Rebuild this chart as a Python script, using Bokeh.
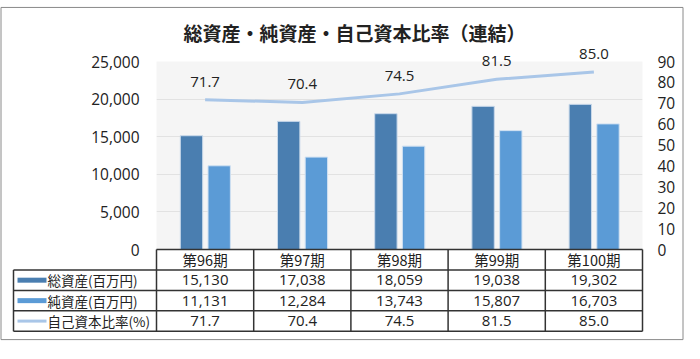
from bokeh.plotting import figure
from bokeh.models import Range1d, LinearAxis, FixedTicker, NumeralTickFormatter, ColumnDataSource
from bokeh.transform import dodge
from bokeh.core.properties import value
from bokeh.embed import file_html
from bokeh.resources import INLINE

# ---------------- data ----------------
title_text = "総資産・純資産・自己資本比率（連結）"
periods = ["第96期", "第97期", "第98期", "第99期", "第100期"]
total_assets = [15130, 17038, 18059, 19038, 19302]      # 総資産(百万円)
net_assets = [11131, 12284, 13743, 15807, 16703]        # 純資産(百万円)
equity_ratio = [71.7, 70.4, 74.5, 81.5, 85.0]           # 自己資本比率(%)
series_names = ["総資産(百万円)", "純資産(百万円)", "自己資本比率(%)"]
left_ticks = [0, 5000, 10000, 15000, 20000, 25000]
right_ticks = [0, 10, 20, 30, 40, 50, 60, 70, 80, 90]

# ---------------- styles / layout ----------------
FONT = "Noto Sans CJK JP"
NUM_FONT = "Open Sans"
C_TOTAL = "#4a7eb0"
C_NET = "#5b9bd6"
C_RATIO = "#a9c6e8"
C_TEXT = "#222222"
C_TABLE = "#333333"

W, H = 684, 343
FL, FR, FT, FB = 156, 642, 56, 249     # plot frame edges in px
TABLE_L = 13
ROW_H = 21
N_ROWS = 4

n = len(periods)
Y_MAX = left_ticks[-1]
R_MAX = right_ticks[-1]
xpp = n / (FR - FL)
ypp = Y_MAX / (FB - FT)


def dx(px):
    return (px - FL) * xpp


def dy(py):
    return (FB - py) * ypp


p = figure(width=W, height=H, x_range=Range1d(0, n), y_range=Range1d(0, Y_MAX),
           x_axis_location=None, output_backend="svg", toolbar_location=None,
           min_border_left=FL, min_border_right=W - FR, min_border_top=FT,
           min_border_bottom=H - FB, background_fill_color="#f5f5f5",
           border_fill_color="white", outline_line_color=None)

# title
p.title.text = title_text
p.title.align = "left"
p.title.offset = 27
p.title.standoff = 32
p.title.text_font = FONT
p.title.text_font_size = "19px"
p.title.text_font_style = "bold"
p.title.text_color = C_TEXT

# grid
p.xgrid.visible = False
p.ygrid.ticker = FixedTicker(ticks=left_ticks)
p.ygrid.grid_line_color = "#e2e2e2"
p.ygrid.grid_line_width = 1

# left axis
ya = p.yaxis[0]
ya.ticker = FixedTicker(ticks=left_ticks)
ya.formatter = NumeralTickFormatter(format="0,0")
ya.axis_line_color = None
ya.major_tick_line_color = None
ya.minor_tick_line_color = None
ya.major_label_standoff = 11
ya.major_label_text_font = NUM_FONT
ya.major_label_text_font_size = "15.5px"
ya.major_label_text_color = C_TEXT

# right axis
p.extra_y_ranges = {"ratio": Range1d(0, R_MAX)}
ra = LinearAxis(y_range_name="ratio", ticker=FixedTicker(ticks=right_ticks),
                axis_line_color=None, major_tick_line_color=None,
                minor_tick_line_color=None, major_label_standoff=9,
                major_label_text_font=NUM_FONT, major_label_text_font_size="15.5px",
                major_label_text_color=C_TEXT)
p.add_layout(ra, "right")

xc = [i + 0.5 for i in range(n)]
src = ColumnDataSource(dict(
    x=xc, total=total_assets, net=net_assets, ratio=equity_ratio,
    ratio_label=[f"{v:.1f}" for v in equity_ratio],
))

p.vbar(x=dodge("x", -0.14), top="total", width=0.23, source=src,
       fill_color=C_TOTAL, line_color="#c9d9ea", line_width=1)
p.vbar(x=dodge("x", 0.145), top="net", width=0.23, source=src,
       fill_color=C_NET, line_color="#cfe0f2", line_width=1)
p.line(x="x", y="ratio", y_range_name="ratio", source=src,
       line_color=C_RATIO, line_width=3)
p.text(x="x", y="ratio", text="ratio_label", y_range_name="ratio", source=src,
       y_offset=-18, text_align="center", text_baseline="middle",
       text_font=value(NUM_FONT), text_font_size="15px", text_color=C_TEXT,
       level="annotation")

# ---------------- data table below the plot ----------------
row_edges = [FB + k * ROW_H for k in range(N_ROWS + 1)]
row_mid = [dy(FB + (k + 0.5) * ROW_H) for k in range(N_ROWS)]
col_edges = list(range(n + 1))

x0s, y0s, x1s, y1s = [], [], [], []
# horizontal lines
x0s.append(0); x1s.append(n); y0s.append(dy(row_edges[0])); y1s.append(dy(row_edges[0]))
for e in row_edges[1:]:
    x0s.append(dx(TABLE_L)); x1s.append(n); y0s.append(dy(e)); y1s.append(dy(e))
# vertical lines
x0s.append(dx(TABLE_L)); x1s.append(dx(TABLE_L)); y0s.append(dy(row_edges[1])); y1s.append(dy(row_edges[-1]))
for c in col_edges:
    x0s.append(c); x1s.append(c); y0s.append(dy(row_edges[0])); y1s.append(dy(row_edges[-1]))
p.segment(x0=x0s, y0=y0s, x1=x1s, y1=y1s, line_color=C_TABLE, line_width=1.5,
          level="annotation")

# header row
p.text(x=xc, y=[row_mid[0]] * n, text=periods, text_align="center",
       text_baseline="middle", text_font=value(FONT), text_font_size="14.5px",
       text_color=C_TEXT, level="annotation")

rows = [
    [f"{v:,}" for v in total_assets],
    [f"{v:,}" for v in net_assets],
    [f"{v:.1f}" for v in equity_ratio],
]
for r, vals in enumerate(rows):
    p.text(x=xc, y=[row_mid[r + 1]] * n, text=vals, text_align="center",
           text_baseline="middle", text_font=value(NUM_FONT), text_font_size="15px",
           text_color=C_TEXT, level="annotation")

# row labels with legend swatches
p.text(x=[dx(47)] * 3, y=row_mid[1:], text=series_names, text_align="left",
       text_baseline="middle", text_font=value(FONT), text_font_size="13.5px",
       text_color=C_TEXT, level="annotation")
for r, (col, lw) in enumerate([(C_TOTAL, 5), (C_NET, 5), (C_RATIO, 3)]):
    p.segment(x0=[dx(17)], y0=[row_mid[r + 1]], x1=[dx(46)], y1=[row_mid[r + 1]],
              line_color=col, line_width=lw, level="annotation")

# outer border
p.quad(left=[dx(0.5)], right=[dx(W - 1.5)], top=[dy(0.5)], bottom=[dy(H - 1.5)],
       fill_color=None, line_color="#8a8a8a", line_width=1, level="annotation")

open("out.html", "w").write(file_html(p, INLINE))
